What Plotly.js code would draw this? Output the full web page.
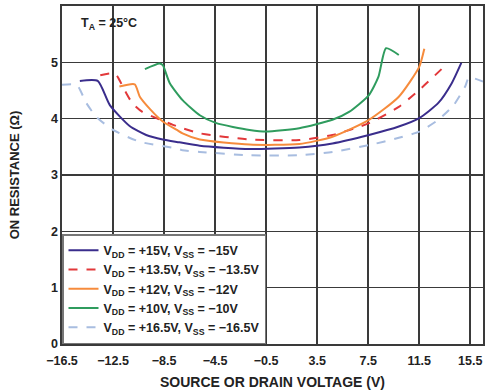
<!DOCTYPE html>
<html><head><meta charset="utf-8">
<script src="https://cdn.plot.ly/plotly-3.0.1.min.js"></script>
<style>html,body{margin:0;padding:0;background:#fff;}</style>
</head><body><div id="chart" style="width:485px;height:392px;"></div>
<script>
const seriesNames = [
  "V<sub>DD</sub> = +15V, V<sub>SS</sub> = −15V",
  "V<sub>DD</sub> = +13.5V, V<sub>SS</sub> = −13.5V",
  "V<sub>DD</sub> = +12V, V<sub>SS</sub> = −12V",
  "V<sub>DD</sub> = +10V, V<sub>SS</sub> = −10V",
  "V<sub>DD</sub> = +16.5V, V<sub>SS</sub> = −16.5V"
];
const x15 = [-15.1, -13.7, -12.75, -11.2, -9.9, -8.6, -7.3, -5.7, -1.8, 2.1, 4.7, 7.56, 9.9, 11.5, 13.0, 14.05, 14.8];
const y15 = [4.67, 4.67, 4.24, 3.87, 3.71, 3.63, 3.58, 3.52, 3.46, 3.49, 3.56, 3.71, 3.86, 4.01, 4.28, 4.63, 4.99];
const x135 = [-13.5, -12.35, -11.6, -11.0, -10.2, -9.1, -7.8, -7.05, -5.7, -1.8, 2.1, 4.7, 7.56, 9.9, 11.5, 13.3];
const y135 = [4.77, 4.80, 4.51, 4.28, 4.12, 4.01, 3.89, 3.83, 3.74, 3.63, 3.62, 3.71, 3.92, 4.21, 4.51, 4.89];
const x12 = [-12.0, -10.8, -10.4, -9.6, -8.6, -7.5, -7.05, -5.7, -1.8, 2.1, 4.7, 7.56, 9.9, 11.5, 11.9];
const y12 = [4.57, 4.61, 4.39, 4.17, 3.95, 3.80, 3.74, 3.63, 3.54, 3.55, 3.68, 3.98, 4.39, 4.92, 5.24];
const x10 = [-10.0, -8.85, -8.6, -8.05, -7.05, -5.7, -4.4, -1.8, -0.5, 2.1, 4.7, 6.0, 7.56, 8.3, 8.9, 9.9];
const y10 = [4.88, 4.98, 4.95, 4.63, 4.33, 4.06, 3.92, 3.80, 3.77, 3.83, 3.98, 4.12, 4.42, 4.74, 5.25, 5.13];
const x165 = [-16.5, -15.35, -14.6, -13.8, -12.5, -10.4, -7.5, -7.05, -5.7, -1.8, 2.1, 4.7, 7.56, 9.9, 11.5, 13.0, 14.2, 15.1, 15.4, 16.5];
const y165 = [4.60, 4.60, 4.28, 4.03, 3.80, 3.59, 3.47, 3.44, 3.41, 3.35, 3.35, 3.41, 3.53, 3.66, 3.77, 3.98, 4.24, 4.57, 4.73, 4.66];
const xTicks = [-16.5, -12.5, -8.5, -4.5, -0.5, 3.5, 7.5, 11.5, 15.5];
const xTickText = ["−16.5", "−12.5", "−8.5", "−4.5", "−0.5", "3.5", "7.5", "11.5", "15.5"];
const yTicks = [0, 1, 2, 3, 4, 5, 6];

const colors = ["#3a2d8c", "#e2383a", "#f68b3c", "#2f9c5e", "#a8bde0"];
const dashes = ["solid", "dash", "solid", "solid", "dash"];
const xs = [x15, x135, x12, x10, x165];
const ys = [y15, y135, y12, y10, y165];

const traces = xs.map((xv, i) => ({
  x: xv, y: ys[i], type: "scatter", mode: "lines", name: seriesNames[i],
  line: {color: colors[i], width: 2, dash: dashes[i], shape: "spline", smoothing: 0.6}
}));

const fontFam = "Liberation Sans, Arial, sans-serif";
const bold = (s) => ({family: fontFam, size: s, color: "#222", weight: "bold"});
const layout = {
  width: 485, height: 392,
  margin: {l: 62, r: 2, t: 6, b: 48},
  paper_bgcolor: "#fff", plot_bgcolor: "#fff",
  font: bold(12),
  showlegend: true,
  legend: {x: 0, y: 0, xanchor: "left", yanchor: "bottom", bgcolor: "#fff",
    bordercolor: "#777", borderwidth: 1.5, tracegroupgap: 0, itemwidth: 30,
    font: bold(12.5)},
  xaxis: {range: [-16.5, 16.5], tickvals: xTicks, ticktext: xTickText,
    showgrid: true, gridcolor: "#3a3a3a", gridwidth: 1.6, zeroline: false,
    showline: true, mirror: true, linecolor: "#3a3a3a", linewidth: 1.6, ticks: "",
    ticklabelstandoff: 4,
    tickfont: bold(12.5),
    title: {text: "SOURCE OR DRAIN VOLTAGE (V)", standoff: 10, font: bold(14)}},
  yaxis: {range: [0, 6], tickvals: yTicks,
    showgrid: true, gridcolor: "#3a3a3a", gridwidth: 1.6, zeroline: false,
    showline: true, mirror: true, linecolor: "#3a3a3a", linewidth: 1.6, ticks: "",
    tickfont: bold(12.5),
    title: {text: "ON RESISTANCE (Ω)", standoff: 28, font: bold(13)}},
  annotations: [{xref: "paper", yref: "paper", x: 0.04, y: 0.975, xanchor: "left", yanchor: "top",
    showarrow: false, text: "T<sub>A</sub> = 25°C", font: bold(12.5)}]
};
Plotly.newPlot("chart", traces, layout, {displayModeBar: false, staticPlot: true});
</script></body></html>
